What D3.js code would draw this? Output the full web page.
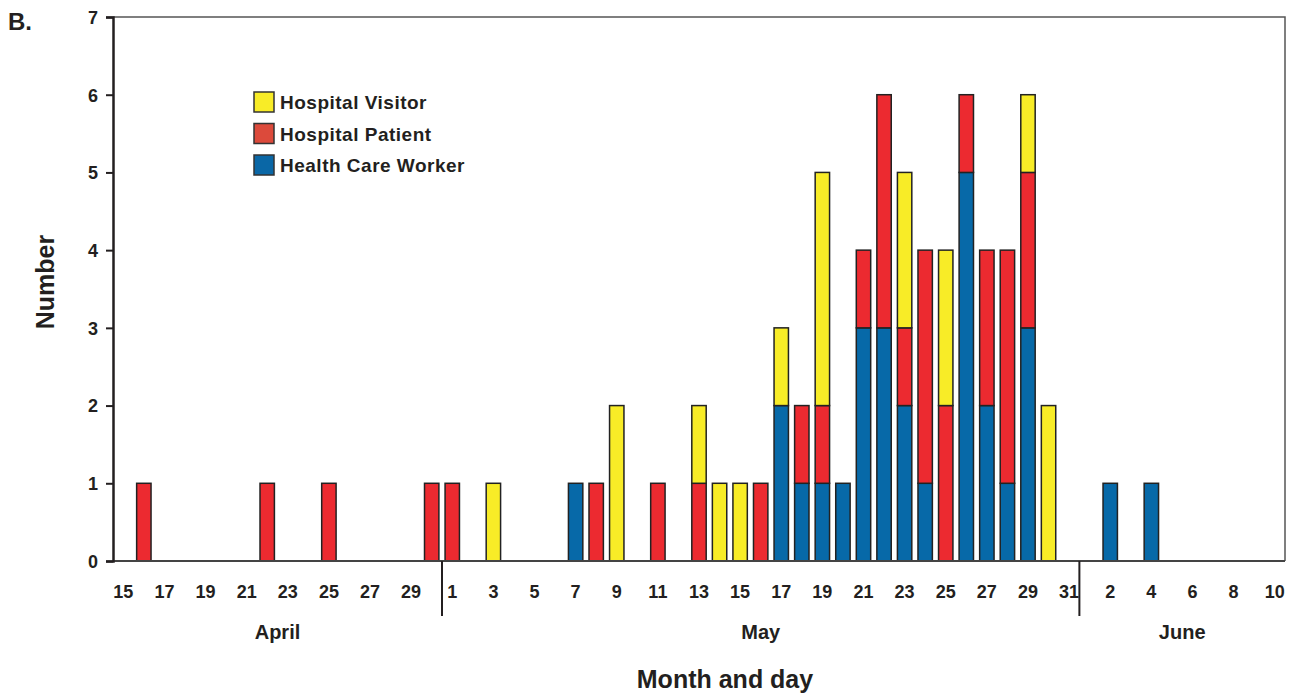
<!DOCTYPE html>
<html>
<head>
<meta charset="utf-8">
<script src="https://cdn.jsdelivr.net/npm/d3@7/dist/d3.min.js"></script>
<style>
  body { margin: 0; background: #fff; }
  svg text { font-family: "Liberation Sans", Arial, sans-serif; font-weight: bold; fill: #231f20; }
</style>
</head>
<body>
<div id="chart"></div>
<script>
// months shown on the x axis and the day span for each
const months = [
  { name: "April", first: 15, last: 30 },
  { name: "May", first: 1, last: 31 },
  { name: "June", first: 1, last: 10 }
];

// onset dates with cases, and counts per group
const barDates = ["April 16", "April 22", "April 25", "April 30", "May 1", "May 3", "May 7", "May 8", "May 9",
  "May 11", "May 13", "May 14", "May 15", "May 16", "May 17", "May 18", "May 19", "May 20", "May 21",
  "May 22", "May 23", "May 24", "May 25", "May 26", "May 27", "May 28", "May 29", "May 30", "June 2", "June 4"];
const healthCareWorker = [0, 0, 0, 0, 0, 0, 1, 0, 0, 0, 0, 0, 0, 0, 2, 1, 1, 1, 3, 3, 2, 1, 0, 5, 2, 1, 3, 0, 1, 1];
const hospitalPatient  = [1, 1, 1, 1, 1, 0, 0, 1, 0, 1, 1, 0, 0, 1, 0, 1, 1, 0, 1, 3, 1, 3, 2, 1, 2, 3, 2, 0, 0, 0];
const hospitalVisitor  = [0, 0, 0, 0, 0, 1, 0, 0, 2, 0, 1, 1, 1, 0, 1, 0, 3, 0, 0, 0, 2, 0, 2, 0, 0, 0, 1, 2, 0, 0];

const seriesKeys = ["worker", "patient", "visitor"];
const seriesColors = { worker: "#0769a8", patient: "#ec2a30", visitor: "#f8ec27" };
const legendItems = [
  { label: "Hospital Visitor", color: "#f8ec27" },
  { label: "Hospital Patient", color: "#dc4a3b" },
  { label: "Health Care Worker", color: "#0a67a6" }
];
const yTicks = [0, 1, 2, 3, 4, 5, 6, 7];

const W = 1299, H = 694;
const margin = { left: 113, right: 14, top: 17, bottom: 133 };

const days = [];
months.forEach(m => {
  for (let d = m.first; d <= m.last; d++) days.push({ key: m.name + " " + d, day: d, month: m.name });
});

const svg = d3.select("#chart").append("svg").attr("width", W).attr("height", H);

const x = d3.scaleBand()
  .domain(days.map(d => d.key))
  .range([margin.left, W - margin.right])
  .paddingInner(0.3).paddingOuter(0.15);
const y = d3.scaleLinear().domain([0, 7]).range([H - margin.bottom, margin.top]);

const rows = barDates.map((k, i) => ({
  key: k, worker: healthCareWorker[i], patient: hospitalPatient[i], visitor: hospitalVisitor[i]
}));
const stacked = d3.stack().keys(seriesKeys)(rows);

// frame
const x0 = margin.left, x1 = W - margin.right, y0 = y(0), yTop = y(7);
svg.append("path")
  .attr("d", `M${x0},${yTop}H${x1}V${y0}`)
  .attr("fill", "none").attr("stroke", "#555").attr("stroke-width", 1.5);

// bars
svg.append("g").selectAll("g")
  .data(stacked)
  .join("g")
  .attr("fill", d => seriesColors[d.key])
  .selectAll("rect")
  .data(d => d.filter(s => s[1] > s[0]))
  .join("rect")
  .attr("x", d => x(d.data.key))
  .attr("width", x.bandwidth())
  .attr("y", d => y(d[1]))
  .attr("height", d => y(d[0]) - y(d[1]))
  .attr("stroke", "#222")
  .attr("stroke-width", 1.5);

// baseline
svg.append("line").attr("x1", x0).attr("x2", x1).attr("y1", y0).attr("y2", y0)
  .attr("stroke", "#444").attr("stroke-width", 2);

// y axis
const yAxis = svg.append("g")
  .attr("transform", `translate(${x0},0)`)
  .call(d3.axisLeft(y).tickValues(yTicks).tickSize(7).tickPadding(8).tickFormat(d3.format("d")));
yAxis.select(".domain").attr("stroke", "#231f20").attr("stroke-width", 2.5);
yAxis.selectAll(".tick line").attr("stroke", "#231f20").attr("stroke-width", 2);
yAxis.selectAll("text").style("font-size", "18px").style("font-family", "'Liberation Sans', Arial, sans-serif")
  .style("font-weight", "bold").attr("fill", "#231f20").attr("dy", "0.35em");

// x tick labels, every other day
const shown = days.filter((d, i) => i % 2 === 0);
svg.append("g").selectAll("text")
  .data(shown)
  .join("text")
  .attr("x", d => x(d.key) + x.bandwidth() / 2)
  .attr("y", y0 + 37)
  .attr("text-anchor", "middle")
  .style("font-size", "18px")
  .text(d => d.day);

// month dividers and labels
const step = x.step();
months.forEach((m, i) => {
  const firstKey = m.name + " " + m.first, lastKey = m.name + " " + m.last;
  const left = x(firstKey) - step * x.paddingInner() / 2;
  const right = x(lastKey) + x.bandwidth() + step * x.paddingInner() / 2;
  if (i > 0) {
    svg.append("line").attr("x1", left).attr("x2", left).attr("y1", y0).attr("y2", y0 + 55)
      .attr("stroke", "#231f20").attr("stroke-width", 2);
  }
  svg.append("text")
    .attr("x", i === 0 ? (x0 + right) / 2 : (left + right) / 2)
    .attr("y", y0 + 78)
    .attr("text-anchor", "middle")
    .style("font-size", "20px")
    .text(m.name);
});

// axis titles
svg.append("text")
  .attr("x", (x0 + x1) / 2 + 26).attr("y", H - 6)
  .attr("text-anchor", "middle").style("font-size", "25px")
  .text("Month and day");
svg.append("text")
  .attr("transform", `translate(54,${(yTop + y0) / 2 - 7}) rotate(-90)`)
  .attr("text-anchor", "middle").style("font-size", "25px")
  .text("Number");
svg.append("text").attr("x", 8).attr("y", 30).style("font-size", "24px").text("B.");

// legend
const lg = svg.append("g").attr("transform", "translate(254,92)");
legendItems.forEach((it, i) => {
  const g = lg.append("g").attr("transform", `translate(0,${i * 31.5})`);
  g.append("rect").attr("width", 20).attr("height", 20)
    .attr("fill", it.color).attr("stroke", "#333").attr("stroke-width", 1.5);
  g.append("text").attr("x", 26).attr("y", 17).style("font-size", "19px")
    .style("letter-spacing", "0.5px").text(it.label);
});
</script>
</body>
</html>
